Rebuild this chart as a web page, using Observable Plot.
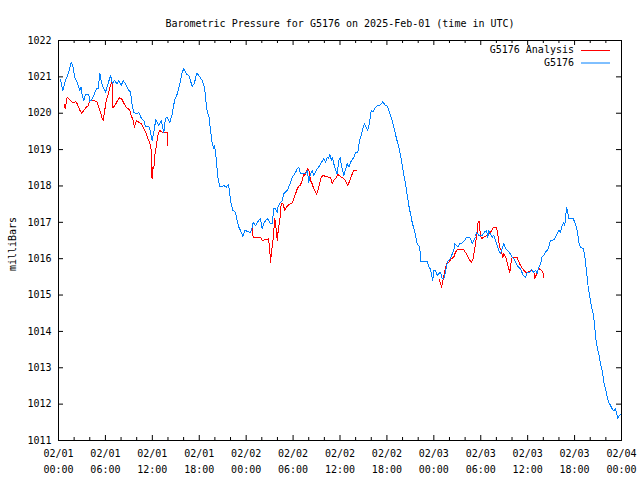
<!DOCTYPE html>
<html>
<head>
<meta charset="utf-8">
<script src="https://cdn.jsdelivr.net/npm/d3@7"></script>
<script src="https://cdn.jsdelivr.net/npm/@observablehq/plot@0.6"></script>
<style>
  html, body { margin: 0; padding: 0; background: #fff; }
</style>
</head>
<body>
<div id="chart"></div>
<script>
// ---- data (hours since 2025-02-01 00:00 UTC, pressure in mb) ----
const startUTC = "2025-02-01T00:00:00Z";
const chartTitle = "Barometric Pressure for G5176 on 2025-Feb-01 (time in UTC)";
const yLabel = "milliBars";
const seriesNames = ["G5176 Analysis", "G5176"];
const seriesColors = ["#ff0000", "#0080ff"];

const blueHours = [
  0.26,0.55,0.90,1.32,1.62,1.88,2.05,2.39,2.72,2.90,
  3.03,3.24,3.45,3.88,4.00,4.18,4.51,4.86,5.08,5.28,
  5.46,5.67,6.01,6.31,6.65,6.91,7.16,7.51,7.71,8.02,
  8.27,8.57,8.86,9.21,9.43,9.63,9.98,10.27,10.58,10.91,
  11.13,11.55,11.77,11.98,12.19,12.44,12.83,13.13,13.47,13.68,
  13.90,14.23,14.54,14.84,15.18,15.51,15.82,16.02,16.37,16.66,
  17.10,17.39,17.65,17.94,18.38,18.67,18.80,19.02,19.22,19.44,
  19.66,19.86,19.95,20.21,20.33,20.63,21.14,21.48,21.70,21.87,
  21.99,22.29,22.64,22.85,23.06,23.37,23.57,23.83,24.17,24.55,
  24.77,24.90,25.19,25.61,25.83,26.05,26.25,26.47,26.77,27.02,
  27.33,27.53,27.75,27.97,28.05,28.39,28.61,28.81,29.25,29.45,
  29.67,29.89,30.09,30.31,30.53,30.73,30.95,31.59,31.81,32.01,
  32.23,32.44,32.65,32.87,33.09,33.42,33.64,33.93,34.15,34.36,
  34.53,34.70,34.88,35.04,35.21,35.43,35.64,35.85,36.03,36.19,
  36.49,36.92,37.13,37.34,37.77,37.98,38.28,38.49,38.66,38.92,
  39.13,39.35,39.56,39.77,39.99,40.20,40.41,40.76,41.18,41.47,
  41.73,42.04,42.33,42.68,42.97,43.23,43.52,43.74,43.96,44.16,
  44.38,44.60,44.80,45.02,45.23,45.44,45.66,45.87,46.08,46.21,
  46.36,47.15,47.36,47.57,47.70,47.87,47.99,48.21,48.43,48.63,
  48.85,49.07,49.28,49.49,49.62,49.84,50.13,50.35,50.55,50.68,
  50.90,51.07,51.28,51.63,51.92,52.18,52.47,52.69,52.91,53.11,
  53.33,53.46,53.75,54.19,54.48,54.74,54.90,55.03,55.25,55.46,
  55.67,55.89,56.10,56.31,56.53,56.74,56.95,57.17,57.38,57.81,
  58.02,58.23,58.45,58.66,59.08,59.43,59.72,59.94,60.27,60.49,
  60.75,61.00,61.22,61.43,61.64,61.86,62.06,62.28,62.50,62.70,
  62.92,63.34,63.56,63.78,63.98,64.20,64.42,64.62,64.75,64.84,
  64.97,65.13,65.26,65.82,66.03,66.25,66.41,66.54,66.76,67.10,
  67.27,67.40,67.53,67.74,67.95,68.17,68.38,68.55,68.68,68.89,
  69.10,69.32,69.53,69.74,69.96,70.17,70.38,70.60,70.81,71.02,
  71.23,71.45,71.53,71.74,72.00
];
const blueValues = [
  1020.92,1020.63,1020.90,1021.13,1021.40,1021.27,1020.99,1020.85,1020.63,1020.72,
  1020.49,1020.35,1020.51,1020.51,1020.33,1020.35,1020.49,1020.67,1020.67,1021.10,
  1020.90,1020.72,1020.58,1020.79,1021.04,1020.81,1020.90,1020.81,1020.90,1020.76,
  1020.90,1020.81,1020.67,1020.58,1020.21,1020.03,1019.98,1020.03,1019.87,1019.80,
  1019.64,1019.64,1019.48,1019.25,1019.48,1019.82,1019.66,1019.80,1019.48,1019.85,
  1019.89,1019.75,1019.98,1020.35,1020.53,1020.81,1021.13,1021.22,1021.08,1021.04,
  1020.74,1020.83,1021.10,1021.04,1020.90,1020.72,1020.44,1020.03,1019.94,1019.53,
  1019.16,1019.02,1019.11,1018.70,1018.29,1017.97,1018.01,1017.97,1018.04,1017.88,
  1017.60,1017.33,1017.28,1017.05,1016.87,1016.73,1016.61,1016.78,1016.75,1016.71,
  1016.85,1017.00,1016.91,1017.05,1017.10,1016.82,1016.96,1017.05,1017.10,1016.98,
  1016.96,1017.37,1017.37,1017.27,1017.42,1017.55,1017.60,1017.78,1017.88,1017.97,
  1018.10,1018.24,1018.29,1018.37,1018.47,1018.52,1018.33,1018.33,1018.43,1018.10,
  1018.33,1018.43,1018.29,1018.38,1018.47,1018.56,1018.65,1018.75,1018.65,1018.79,
  1018.75,1018.88,1018.70,1018.79,1018.61,1018.43,1018.33,1018.70,1018.79,1018.54,
  1018.29,1018.61,1018.52,1018.65,1018.79,1018.93,1018.93,1019.25,1019.34,1019.59,
  1019.71,1019.62,1019.53,1019.75,1020.08,1020.03,1020.12,1020.21,1020.23,1020.32,
  1020.23,1020.19,1020.03,1019.80,1019.53,1019.30,1019.07,1018.84,1018.56,1018.29,
  1018.06,1017.74,1017.46,1017.23,1017.00,1016.83,1016.64,1016.41,1016.36,1016.27,
  1015.92,1015.92,1015.77,1015.72,1015.58,1015.40,1015.68,1015.68,1015.54,1015.59,
  1015.63,1015.45,1015.45,1015.63,1015.81,1015.95,1016.00,1016.13,1016.23,1016.41,
  1016.36,1016.32,1016.41,1016.43,1016.50,1016.59,1016.59,1016.55,1016.41,1016.50,
  1016.61,1016.73,1016.64,1016.64,1016.73,1016.78,1016.59,1016.78,1016.68,1016.59,
  1016.64,1016.50,1016.36,1016.23,1016.13,1016.28,1016.41,1016.27,1016.23,1016.13,
  1016.04,1016.00,1015.90,1015.81,1015.72,1015.54,1015.49,1015.63,1015.63,1015.70,
  1015.63,1015.68,1015.60,1015.77,1015.86,1016.06,1016.09,1016.18,1016.23,1016.32,
  1016.50,1016.52,1016.59,1016.68,1016.78,1016.73,1016.91,1017.00,1016.91,1017.14,
  1017.40,1017.28,1017.10,1017.10,1017.00,1016.87,1016.68,1016.45,1016.32,1016.27,
  1016.13,1015.90,1015.63,1015.22,1014.94,1014.67,1014.48,1014.21,1013.84,1013.57,
  1013.38,1013.11,1012.93,1012.60,1012.42,1012.19,1012.05,1011.96,1011.87,1011.81,
  1011.87,1011.69,1011.60,1011.69,1011.72
];

// analysis series: three runs separated by gaps (null)
const redHours = [
  0.77,0.86,1.11,1.32,1.62,1.96,2.17,2.39,2.72,2.94,
  3.24,3.58,3.80,4.00,4.44,4.73,4.95,5.15,5.37,5.59,
  5.72,5.88,6.10,6.31,6.52,6.74,6.87,6.94,7.20,7.51,
  7.80,8.06,8.35,8.70,9.08,9.30,9.55,9.72,9.98,10.27,
  10.58,10.83,11.13,11.45,11.77,11.86,11.96,12.06,12.19,12.32,
  12.49,12.70,12.92,13.26,13.90,13.98,
  19.00,
  24.77,24.90,25.83,26.05,26.60,26.86,27.02,27.11,27.24,27.41,
  27.53,27.66,27.79,27.97,28.10,28.30,28.48,28.71,28.94,29.16,
  29.45,29.67,29.89,30.09,30.31,30.53,30.73,30.95,31.16,31.37,
  31.52,31.71,31.88,32.03,32.23,32.42,32.57,32.78,32.99,33.16,
  33.29,33.59,33.85,34.15,34.57,34.78,35.00,35.21,35.43,35.74,
  36.06,36.49,36.70,37.00,37.25,37.56,37.77,38.11,
  43.00,
  48.66,48.98,49.17,49.36,49.62,49.91,50.22,50.55,50.77,50.99,
  51.83,52.18,52.47,52.78,53.01,53.20,53.42,53.58,53.67,53.80,
  53.90,54.06,54.39,54.83,55.25,55.67,56.01,56.23,56.40,56.59,
  56.82,56.97,57.25,57.51,57.72,57.89,58.02,58.66,59.08,59.51,
  59.72,60.11,60.36,60.79,60.92,61.07,61.30,61.55,61.77,61.93,62.06
];
const redValues = [
  1020.24,1020.12,1020.44,1020.40,1020.33,1020.28,1020.33,1020.26,1020.09,1020.00,
  1020.08,1020.17,1020.21,1020.35,1020.35,1020.33,1020.30,1020.17,1020.03,1019.85,
  1019.80,1020.03,1020.35,1020.49,1020.67,1020.83,1020.85,1020.15,1020.21,1020.33,
  1020.42,1020.40,1020.28,1020.15,1020.10,1019.94,1019.80,1019.62,1019.80,1019.75,
  1019.71,1019.62,1019.48,1019.30,1019.11,1018.98,1018.20,1018.51,1018.47,1018.84,
  1019.07,1019.39,1019.53,1019.48,1019.48,1019.11,
  null,
  1016.82,1016.59,1016.59,1016.50,1016.53,1016.55,1016.23,1015.90,1016.17,1016.45,
  1016.78,1017.10,1016.91,1016.50,1016.78,1017.05,1017.51,1017.51,1017.33,1017.42,
  1017.49,1017.51,1017.53,1017.65,1017.78,1017.92,1017.99,1018.03,1018.15,1018.33,
  1018.29,1018.41,1018.47,1018.43,1018.15,1018.07,1017.97,1017.88,1017.77,1017.88,
  1017.97,1018.23,1018.29,1018.26,1018.24,1018.24,1018.06,1018.15,1018.20,1018.31,
  1018.26,1018.20,1018.15,1018.01,1018.15,1018.33,1018.43,1018.43,
  null,
  1015.45,1015.22,1015.40,1015.63,1015.86,1015.90,1016.00,1016.04,1016.18,1016.24,
  1016.24,1016.13,1016.00,1015.90,1016.00,1016.23,1016.55,1016.78,1017.03,1017.03,
  1016.78,1016.55,1016.59,1016.64,1016.73,1016.87,1016.87,1016.59,1016.32,1016.23,
  1016.04,1016.14,1016.00,1015.77,1015.63,1015.90,1016.04,1016.03,1015.81,1015.68,
  1015.63,1015.63,1015.68,1015.63,1015.45,1015.54,1015.68,1015.72,1015.68,1015.63,1015.49
];

const majorTickHours = [0, 6, 12, 18, 24, 30, 36, 42, 48, 54, 60, 66, 72];
const minorTickHours = [2, 4, 8, 10, 14, 16, 20, 22, 26, 28, 32, 34, 38, 40, 44, 46, 50, 52, 56, 58, 62, 64, 68, 70];
const yTicks = [1011, 1012, 1013, 1014, 1015, 1016, 1017, 1018, 1019, 1020, 1021, 1022];

// ---- build ----
const t0 = Date.parse(startUTC);
const toDate = h => new Date(t0 + h * 3600e3);
const blue = blueHours.map((h, i) => ({t: toDate(h), v: blueValues[i]}));
const red = redHours.map((h, i) => ({t: toDate(h), v: redValues[i]}));
const majorDates = majorTickHours.map(toDate);
const minorDates = minorTickHours.map(toDate);
const fmt = d3.utcFormat("%m/%d\n%H:%M");

const W = 640, H = 480, mL = 58, mR = 19, mT = 40, mB = 40;
const fw = W - mL - mR, fh = H - mT - mB;
const majLen = 5, minLen = 3, yLen = 5;
const FONT = "'DejaVu Sans Mono', monospace";

const svg = Plot.plot({
  width: W, height: H,
  marginLeft: mL, marginRight: mR, marginTop: mT, marginBottom: mB,
  style: {fontFamily: FONT, fontSize: "10px", background: "#fff", color: "#000", overflow: "visible"},
  x: {type: "utc", domain: [toDate(0), toDate(72)], label: null},
  y: {domain: [1011, 1022], label: null},
  marks: [
    // inward ticks, mirrored on the opposite sides
    Plot.tickX(majorDates, {x: d => d, insetTop: fh - majLen, stroke: "#000"}),
    Plot.tickX(majorDates, {x: d => d, insetBottom: fh - majLen, stroke: "#000"}),
    Plot.tickX(minorDates, {x: d => d, insetTop: fh - minLen, stroke: "#000"}),
    Plot.tickX(minorDates, {x: d => d, insetBottom: fh - minLen, stroke: "#000"}),
    Plot.tickY(yTicks, {y: d => d, insetRight: fw - yLen, stroke: "#000"}),
    Plot.tickY(yTicks, {y: d => d, insetLeft: fw - yLen, stroke: "#000"}),
    Plot.axisX({ticks: majorDates, tickSize: 0, tickPadding: 5, tickFormat: fmt, lineHeight: 1.6, fill: "#000"}),
    Plot.axisY({ticks: yTicks, tickSize: 0, tickPadding: 7, tickFormat: d => String(d), fill: "#000"}),
    Plot.line(red, {x: "t", y: "v", stroke: seriesColors[0], strokeWidth: 1, shapeRendering: "crispEdges"}),
    Plot.line(blue, {x: "t", y: "v", stroke: seriesColors[1], strokeWidth: 1, shapeRendering: "crispEdges"}),
    Plot.frame({stroke: "#000"}),
    Plot.text([chartTitle], {text: d => d, frameAnchor: "top", dy: -21, fill: "#000"})
  ]
});
document.getElementById("chart").appendChild(svg);

const root = d3.select(svg);
// y-axis title
root.append("text")
  .attr("transform", `translate(13, ${mT + fh / 2 + 4}) rotate(-90)`)
  .attr("text-anchor", "middle").attr("dy", "0.32em")
  .attr("font-family", FONT).attr("font-size", 10).attr("fill", "#000")
  .text(yLabel);

// legend (labels + line samples), inside the top-right of the frame
const lg = root.append("g").attr("font-family", FONT).attr("font-size", 10);
seriesNames.forEach((name, i) => {
  const yy = mT + 10 + i * 12.5;
  lg.append("text").attr("x", W - mR - 47).attr("y", yy).attr("dy", "0.32em")
    .attr("text-anchor", "end").attr("fill", "#000").text(name);
  lg.append("line").attr("x1", W - mR - 40).attr("x2", W - mR - 11).attr("y1", yy + 0.5).attr("y2", yy + 0.5)
    .attr("stroke", seriesColors[i]).attr("stroke-width", 1);
});
</script>
</body>
</html>
